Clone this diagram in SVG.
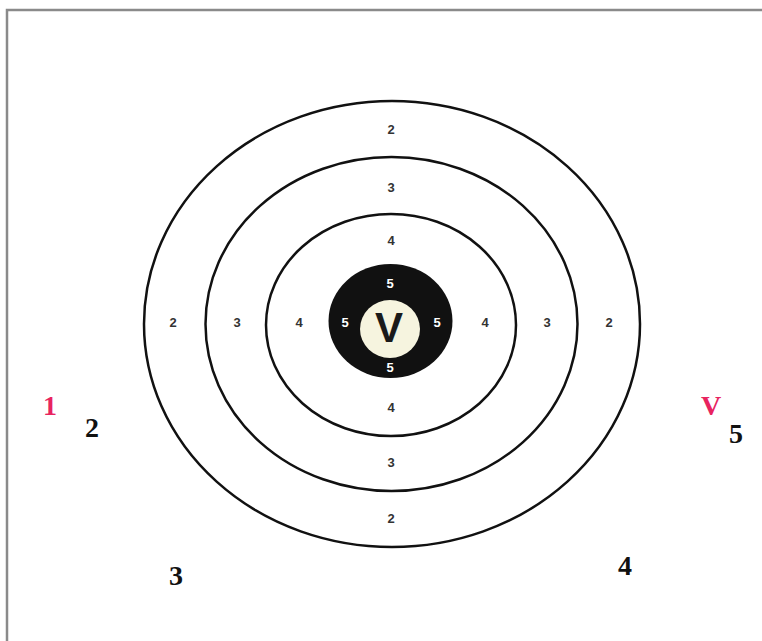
<svg xmlns="http://www.w3.org/2000/svg" width="762" height="641" viewBox="0 0 762 641">
<style>
.ring{fill:none;stroke:#111;stroke-width:2.5}
.s{font-family:"Liberation Sans",Arial,sans-serif;font-weight:bold;font-size:13px;fill:#333;text-anchor:middle}
.w{fill:#fff}
.big{font-family:"Liberation Serif","Times New Roman",serif;font-weight:bold;font-size:28px;text-anchor:middle;fill:#111}
.pink{fill:#e8245f}
</style>
<rect width="762" height="641" fill="#fff"/>
<path d="M7,641 V10 H762" fill="none" stroke="#8a8a8a" stroke-width="2.5"/>
<g id="target">
<ellipse id="ring2" class="ring" cx="392" cy="324" rx="248" ry="223"/>
<ellipse id="ring3" class="ring" cx="391.5" cy="324" rx="186" ry="167"/>
<ellipse id="ring4" class="ring" cx="391" cy="325" rx="125" ry="111"/>
<ellipse id="ring5" cx="390.5" cy="321" rx="62" ry="57" fill="#111"/>
<ellipse id="bull" cx="390" cy="329" rx="30" ry="29" fill="#f6f4df"/>
<text x="389" y="342" font-family="'Liberation Sans',Arial,sans-serif" font-weight="bold" font-size="42" fill="#1a1a1a" text-anchor="middle">V</text>
</g>
<g id="ring-labels">
<text class="s" x="391" y="134">2</text>
<text class="s" x="391" y="192">3</text>
<text class="s" x="391" y="245">4</text>
<text class="s w" x="390" y="288">5</text>
<text class="s w" x="390" y="372">5</text>
<text class="s" x="391" y="412">4</text>
<text class="s" x="391" y="467">3</text>
<text class="s" x="391" y="523">2</text>
<text class="s" x="173" y="327">2</text>
<text class="s" x="237" y="327">3</text>
<text class="s" x="299" y="327">4</text>
<text class="s w" x="345" y="327">5</text>
<text class="s w" x="437" y="327">5</text>
<text class="s" x="485" y="327">4</text>
<text class="s" x="547" y="327">3</text>
<text class="s" x="609" y="327">2</text>
</g>
<g id="outer-labels">
<text class="big pink" x="50" y="415">1</text>
<text class="big" x="92" y="437">2</text>
<text class="big" x="176" y="585">3</text>
<text class="big" x="625" y="575">4</text>
<text class="big pink" x="711" y="415">V</text>
<text class="big" x="736" y="443">5</text>
</g>
</svg>
